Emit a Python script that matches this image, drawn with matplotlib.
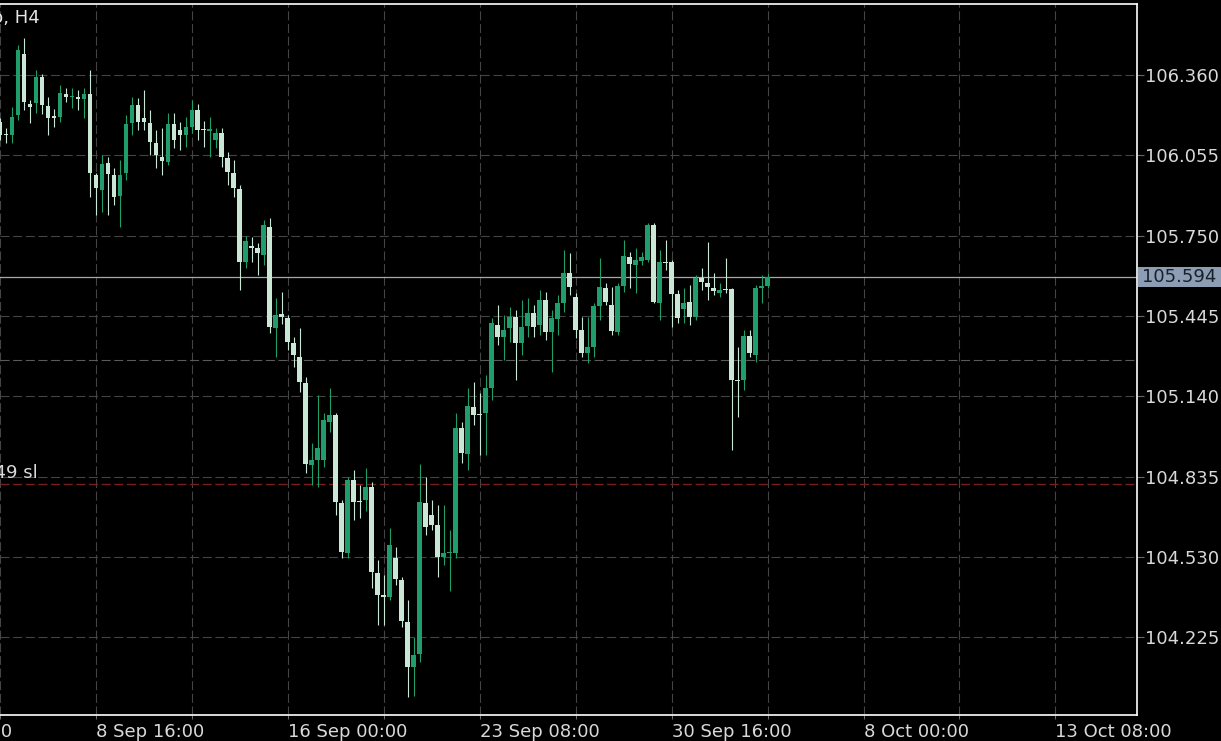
import matplotlib
matplotlib.use("Agg")
import matplotlib.pyplot as plt
import matplotlib.transforms as mtransforms
from matplotlib.patches import Rectangle

# H4 candles, oldest first (first one is cut by the left edge)
opens = [
    106.181, 106.136, 106.132, 106.208, 106.440, 106.250, 106.254, 106.352, 106.242, 106.204,
    106.200, 106.288, 106.276, 106.276, 106.269, 106.288, 105.980, 105.923, 106.026, 105.980,
    105.900, 105.988, 106.178, 106.246, 106.197, 106.178, 106.102, 106.048, 106.029, 106.174,
    106.151, 106.132, 106.162, 106.227, 106.155, 106.147, 106.113, 106.140, 106.045, 105.988,
    105.927, 105.650, 105.711, 105.704, 105.677, 105.783, 105.400, 105.453, 105.438, 105.343,
    105.289, 105.191, 104.879, 104.898, 104.898, 105.042, 105.069, 104.736, 104.546, 104.822,
    104.743, 104.747, 104.795, 104.470, 104.386, 104.378, 104.527, 104.443, 104.283, 104.112,
    104.162, 104.736, 104.690, 104.652, 104.530, 104.546, 104.546, 105.020, 104.921, 105.099,
    105.073, 105.077, 105.172, 105.411, 105.365, 105.400, 105.441, 105.343, 105.407, 105.457,
    105.411, 105.506, 105.384, 105.434, 105.495, 105.609, 105.517, 105.392, 105.305, 105.327,
    105.483, 105.552, 105.487, 105.384, 105.559, 105.669, 105.639, 105.654, 105.658, 105.791,
    105.495, 105.650, 105.650, 105.529, 105.472, 105.498, 105.441, 105.590, 105.571, 105.552,
    105.533, 105.548, 105.548, 105.202, 105.202, 105.369, 105.297, 105.552, 105.559,
]
closes = [
    106.132, 106.132, 106.200, 106.455, 106.257, 106.238, 106.352, 106.246, 106.197, 106.197,
    106.292, 106.276, 106.280, 106.269, 106.288, 105.988, 105.931, 106.022, 105.984, 105.896,
    105.980, 106.174, 106.246, 106.181, 106.181, 106.106, 106.056, 106.033, 106.174, 106.113,
    106.132, 106.162, 106.227, 106.151, 106.151, 106.155, 106.140, 106.048, 105.991, 105.931,
    105.650, 105.730, 105.704, 105.685, 105.791, 105.403, 105.449, 105.441, 105.346, 105.297,
    105.194, 104.883, 104.898, 104.944, 105.050, 105.069, 104.739, 104.549, 104.822, 104.739,
    104.739, 104.795, 104.473, 104.386, 104.378, 104.576, 104.447, 104.287, 104.112, 104.158,
    104.739, 104.644, 104.652, 104.530, 104.546, 104.549, 105.020, 104.925, 105.103, 105.069,
    105.069, 105.172, 105.419, 105.365, 105.392, 105.441, 105.343, 105.403, 105.457, 105.403,
    105.506, 105.384, 105.438, 105.495, 105.609, 105.555, 105.392, 105.305, 105.327, 105.483,
    105.555, 105.498, 105.388, 105.559, 105.673, 105.643, 105.658, 105.669, 105.791, 105.498,
    105.650, 105.647, 105.529, 105.438, 105.495, 105.441, 105.590, 105.575, 105.555, 105.540,
    105.544, 105.544, 105.202, 105.198, 105.369, 105.305, 105.552, 105.559, 105.594,
]
highs = [
    106.197, 106.159, 106.238, 106.474, 106.501, 106.265, 106.379, 106.364, 106.276, 106.231,
    106.322, 106.311, 106.311, 106.303, 106.311, 106.379, 105.988, 106.056, 106.048, 106.007,
    106.037, 106.208, 106.276, 106.273, 106.303, 106.227, 106.151, 106.159, 106.216, 106.216,
    106.181, 106.200, 106.265, 106.250, 106.185, 106.200, 106.159, 106.159, 106.067, 106.037,
    105.942, 105.749, 105.745, 105.723, 105.810, 105.818, 105.514, 105.536, 105.449, 105.365,
    105.400, 105.213, 104.963, 105.145, 105.077, 105.172, 105.077, 104.747, 104.834, 104.860,
    104.803, 104.868, 104.815, 104.519, 104.462, 104.641, 104.568, 104.454, 104.367, 104.226,
    104.883, 104.834, 104.747, 104.728, 104.728, 104.633, 105.077, 105.042, 105.172, 105.194,
    105.153, 105.221, 105.438, 105.487, 105.449, 105.479, 105.468, 105.506, 105.514, 105.487,
    105.544, 105.536, 105.468, 105.525, 105.696, 105.685, 105.533, 105.441, 105.441, 105.495,
    105.666, 105.571, 105.555, 105.571, 105.734, 105.688, 105.704, 105.688, 105.799, 105.799,
    105.696, 105.734, 105.658, 105.544, 105.552, 105.563, 105.601, 105.628, 105.726, 105.609,
    105.571, 105.666, 105.552, 105.327, 105.392, 105.392, 105.563, 105.601, 105.609,
]
lows = [
    106.113, 106.102, 106.102, 106.189, 106.227, 106.178, 106.216, 106.212, 106.132, 106.162,
    106.181, 106.257, 106.235, 106.227, 106.197, 105.896, 105.829, 105.840, 105.829, 105.867,
    105.783, 105.961, 106.132, 106.151, 106.151, 106.056, 106.007, 105.980, 106.018, 106.083,
    106.075, 106.086, 106.140, 106.113, 106.086, 106.048, 106.083, 106.010, 105.942, 105.896,
    105.544, 105.628, 105.650, 105.601, 105.639, 105.381, 105.289, 105.415, 105.316, 105.251,
    105.156, 104.849, 104.803, 104.795, 104.871, 105.004, 104.690, 104.527, 104.527, 104.671,
    104.679, 104.705, 104.413, 104.272, 104.272, 104.367, 104.424, 104.264, 103.999, 104.002,
    104.131, 104.614, 104.633, 104.454, 104.500, 104.401, 104.527, 104.887, 104.860, 105.031,
    104.918, 104.918, 105.126, 105.335, 105.278, 105.346, 105.202, 105.297, 105.365, 105.365,
    105.373, 105.354, 105.232, 105.373, 105.460, 105.525, 105.362, 105.289, 105.266, 105.289,
    105.430, 105.487, 105.373, 105.373, 105.536, 105.552, 105.533, 105.639, 105.650, 105.495,
    105.430, 105.620, 105.403, 105.419, 105.419, 105.411, 105.430, 105.544, 105.506, 105.525,
    105.517, 105.533, 104.936, 105.061, 105.164, 105.289, 105.270, 105.495, 105.552,
]

price_ticks = [104.225, 104.530, 104.835, 105.140, 105.445, 105.750, 106.055, 106.360]
time_labels = ["1 Sep 08:00", "8 Sep 16:00", "16 Sep 00:00", "23 Sep 08:00",
               "30 Sep 16:00", "8 Oct 00:00", "13 Oct 08:00"]
stop_loss = 104.808
order_level = 105.278
title = "USDX.pro, H4"
sl_label = "#12349 sl"

BULL = "#1f9d6b"
BEAR = "#c9e7d4"
GRID = "#444444"
TEXT = "#d9d9d9"

plt.rcParams["lines.scale_dashes"] = False
plt.rcParams["font.family"] = ["DejaVu Sans"]

W, H = 1221, 741
fig = plt.figure(figsize=(W / 100, H / 100), dpi=100, facecolor="black")
ax = fig.add_axes([0, 26 / H, 1137 / W, 711 / H], facecolor="black")

n = len(opens)
xs = list(range(n))
cols = [BULL if c >= o else BEAR for o, c in zip(opens, closes)]
ax.vlines(xs, lows, highs, colors=cols, linewidth=0.8, zorder=3)
bottoms = [min(o, c) for o, c in zip(opens, closes)]
heights = [max(abs(c - o), 0.004) for o, c in zip(opens, closes)]
ax.bar(xs, heights, bottom=bottoms, width=0.8, color=cols, linewidth=0, zorder=4)

ax.set_xlim(0.117, 189.6)
ax.set_ylim(103.930, 106.630)

# grid
dash = (0, (6.5, 2.6))
ax.set_xticks(range(0, 190, 16))
ax.set_xticklabels([])
ax.set_yticks(price_ticks)
ax.set_yticklabels([f"{v:.3f}" for v in price_ticks])
ax.yaxis.tick_right()
ax.grid(True, color=GRID, linewidth=0.8, linestyle=dash, zorder=1)
ax.tick_params(axis="y", colors="#6a6a6a", labelcolor=TEXT, length=5, width=0.8,
               pad=1, labelsize=13)
ax.tick_params(axis="x", colors="#6a6a6a", length=3, width=0.8, direction="out")

for side in ("top", "right", "bottom"):
    ax.spines[side].set_color("white")
    ax.spines[side].set_linewidth(1.2)
ax.spines["left"].set_visible(False)

# time labels, left-aligned at every second gridline
xtrans = mtransforms.blended_transform_factory(ax.transData, ax.transAxes)
for i, lab in enumerate(time_labels):
    ax.text(-16 + 32 * i, -0.011, lab, transform=xtrans, ha="left", va="top",
            color=TEXT, fontsize=13, clip_on=False)

# order / stop lines
ax.axhline(order_level, color="#5a5a5a", linewidth=0.8, linestyle=dash, zorder=2)
ax.axhline(stop_loss, color="#7a1e1e", linewidth=1.0, linestyle=dash, zorder=2)
sl_trans = mtransforms.offset_copy(
    mtransforms.blended_transform_factory(fig.transFigure, ax.transData),
    fig=fig, x=0, y=2, units="dots")
fig.text(38 / W, stop_loss, sl_label, transform=sl_trans, ha="right", va="bottom",
         color=TEXT, fontsize=13)

# current price line and marker box
last = closes[-1]
ax.axhline(last, color="#a8a8a8", linewidth=0.9, zorder=2)
ytrans = mtransforms.blended_transform_factory(ax.transAxes, ax.transData)
half = 10 / 263.4
ax.add_patch(Rectangle((1.0005, last - half), 84 / 1137, 2 * half, transform=ytrans,
                       facecolor="#8d9eb4", edgecolor="none", clip_on=False, zorder=5))
ax.text(1.0 + 5 / 1137, last, f"{last:.3f}", transform=ytrans, ha="left", va="center",
        color="#18202c", fontsize=13, clip_on=False, zorder=6)

fig.text(40 / W, 1 - 18 / H, title, ha="right", va="center", color="#e6e6e6", fontsize=13)

fig.savefig("out.png", dpi=100, facecolor="black")
